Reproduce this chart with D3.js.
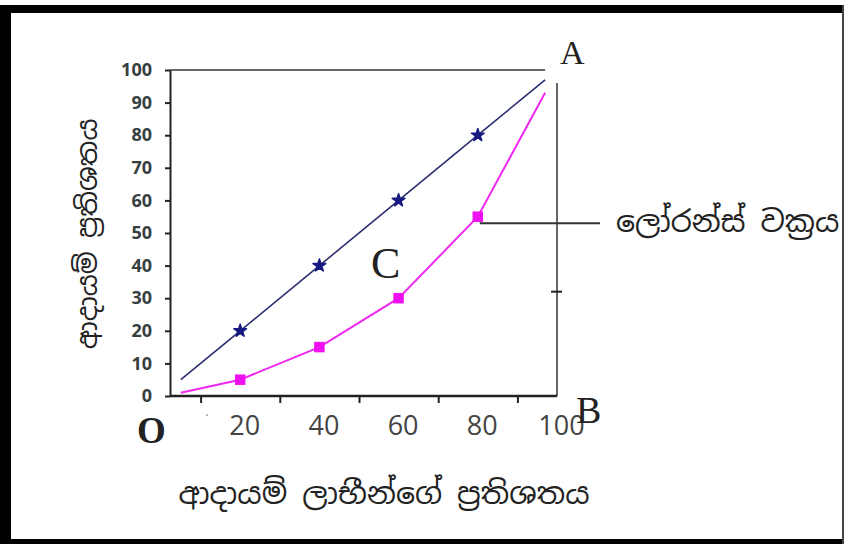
<!DOCTYPE html>
<html>
<head>
<meta charset="utf-8">
<script src="https://cdn.jsdelivr.net/npm/d3@7"></script>
<style>
  body { margin: 0; background: #fff; }
  svg { display: block; }
  .sin { font-family: "Noto Sans Sinhala", "Iskoola Pota", "Noto Sans", sans-serif; fill: #222; }
  .letter { font-family: "Liberation Serif", "Times New Roman", serif; fill: #222; }
</style>
</head>
<body>
<div id="chart"></div>
<script>
// ලෝරන්ස් වක්‍රය
const populationPct = [20, 40, 60, 80];          // x of the markers
const equalityPct = [20, 40, 60, 80];            // line of equality (OA)
const lorenzPct = [5, 15, 30, 55];               // Lorenz curve (OCA)
const equalityLineX = [5, 20, 40, 60, 80, 97];
const equalityLineY = [5, 20, 40, 60, 80, 97];
const lorenzLineX = [5, 20, 40, 60, 80, 97];
const lorenzLineY = [1, 5, 15, 30, 55, 93];
const yTicks = [0, 10, 20, 30, 40, 50, 60, 70, 80, 90, 100];
const xTickMarks = [10, 30, 50, 70, 90];
const xTickLabels = [20, 40, 60, 80, 100];
const rightTick = 32;
const legendAt = 53;

const yLabel = "ආදායම් ප්‍රතිශතය";
const xLabel = "ආදායම් ලාභීන්ගේ ප්‍රතිශතය";
const legendLabel = "ලෝරන්ස් වක්‍රය";

const W = 844, H = 544;
const plotLeft = 170, plotTop = 70, plotBottom = 396;

const svg = d3.select("#chart")
    .append("svg")
    .attr("width", W)
    .attr("height", H);

// frame
svg.append("rect").attr("x", 0).attr("y", 5).attr("width", W).attr("height", 8).attr("fill", "#000");
svg.append("rect").attr("x", 0).attr("y", 5).attr("width", 11).attr("height", H - 5).attr("fill", "#000");
svg.append("rect").attr("x", 0).attr("y", 539).attr("width", W).attr("height", 5).attr("fill", "#000");
svg.append("rect").attr("x", 842).attr("y", 5).attr("width", 2).attr("height", H - 5).attr("fill", "#444");

const x = d3.scaleLinear()
    .domain([0, 100])
    .range([161, 557]);

const y = d3.scaleLinear()
    .domain([0, 100])
    .range([plotBottom, plotTop]);

// top line at 100
svg.append("line")
    .attr("x1", plotLeft).attr("x2", x(97))
    .attr("y1", y(100)).attr("y2", y(100))
    .attr("stroke", "#666").attr("stroke-width", 2);

// right vertical line at x = 100
svg.append("line")
    .attr("x1", x(100)).attr("x2", x(100))
    .attr("y1", y(96)).attr("y2", y(0))
    .attr("stroke", "#333").attr("stroke-width", 1.5);
svg.append("line")
    .attr("x1", x(100) - 6).attr("x2", x(100) + 5)
    .attr("y1", y(rightTick)).attr("y2", y(rightTick))
    .attr("stroke", "#222").attr("stroke-width", 2);

// y axis
const yAxis = svg.append("g")
    .attr("transform", `translate(${plotLeft},0)`)
    .call(d3.axisLeft(y).tickValues(yTicks).tickSize(5).tickPadding(13).tickSizeOuter(0));
yAxis.select(".domain").attr("stroke", "#222").attr("stroke-width", 2);
yAxis.selectAll(".tick line").attr("stroke", "#222").attr("stroke-width", 2);
yAxis.selectAll(".tick text")
    .attr("fill", "#364040")
    .style("font-family", "'Open Sans', sans-serif")
    .style("font-size", "18px")
    .style("font-weight", "bold");

// x axis: tick marks between categories
const xAxis = svg.append("g")
    .attr("transform", `translate(0,${plotBottom})`)
    .call(d3.axisBottom(x).tickValues(xTickMarks).tickSize(7).tickFormat(""));
xAxis.select(".domain").remove();
xAxis.selectAll(".tick line").attr("stroke", "#222").attr("stroke-width", 2);
svg.append("line")
    .attr("x1", plotLeft).attr("x2", x(100))
    .attr("y1", plotBottom).attr("y2", plotBottom)
    .attr("stroke", "#222").attr("stroke-width", 2.5);

const xLabels = svg.append("g")
    .attr("transform", `translate(4,${plotBottom})`)
    .call(d3.axisBottom(x).tickValues(xTickLabels).tickSize(0).tickPadding(20));
xLabels.select(".domain").remove();
xLabels.selectAll(".tick text")
    .attr("fill", "#444")
    .style("font-family", "'Open Sans', sans-serif")
    .style("font-size", "27px");

svg.append("text")
    .attr("x", x(11)).attr("y", 420)
    .attr("fill", "#888")
    .style("font-size", "14px")
    .text("·");

// lines
const line = d3.line()
    .x(d => x(d[0]))
    .y(d => y(d[1]));

svg.append("path")
    .datum(d3.zip(equalityLineX, equalityLineY))
    .attr("d", line)
    .attr("fill", "none")
    .attr("stroke", "#2b2f70")
    .attr("stroke-width", 1.6);

svg.append("path")
    .datum(d3.zip(lorenzLineX, lorenzLineY))
    .attr("d", line)
    .attr("fill", "none")
    .attr("stroke", "#f028f0")
    .attr("stroke-width", 2);

// markers
svg.selectAll(".eq")
    .data(d3.zip(populationPct, equalityPct))
    .enter().append("path")
    .attr("class", "eq")
    .attr("transform", d => `translate(${x(d[0])},${y(d[1])})`)
    .attr("d", d3.symbol().type(d3.symbolStar).size(50))
    .attr("fill", "#161a80")
    .attr("stroke", "#161a80")
    .attr("stroke-width", 1.5)
    .attr("stroke-linejoin", "round");

svg.selectAll(".lz")
    .data(d3.zip(populationPct, lorenzPct))
    .enter().append("path")
    .attr("class", "lz")
    .attr("transform", d => `translate(${x(d[0])},${y(d[1])})`)
    .attr("d", d3.symbol().type(d3.symbolSquare).size(110))
    .attr("fill", "#ee10ee");

// legend pointer
svg.append("line")
    .attr("x1", x(80) + 2).attr("x2", 600)
    .attr("y1", y(legendAt)).attr("y2", y(legendAt))
    .attr("stroke", "#333").attr("stroke-width", 2);
svg.append("text")
    .attr("class", "sin")
    .attr("x", 616).attr("y", y(legendAt))
    .attr("dy", "0.3em")
    .style("font-size", "30px")
    .text(legendLabel);

// letters
svg.append("text").attr("class", "letter").attr("x", 560).attr("y", 64).style("font-size", "34px").text("A");
svg.append("text").attr("class", "letter").attr("x", 576).attr("y", 423).style("font-size", "38px").text("B");
svg.append("text").attr("class", "letter").attr("x", 371).attr("y", 278).style("font-size", "44px").text("C");
svg.append("text").attr("class", "letter").attr("x", 137).attr("y", 443).style("font-size", "37px").style("font-weight", "bold").text("O");

// axis titles
svg.append("text")
    .attr("class", "sin")
    .attr("transform", "rotate(-90)")
    .attr("x", -234)
    .attr("y", 88)
    .attr("dy", "0.35em")
    .attr("text-anchor", "middle")
    .style("font-size", "27px")
    .text(yLabel);

svg.append("text")
    .attr("class", "sin")
    .attr("x", 384)
    .attr("y", 493)
    .attr("dy", "0.35em")
    .attr("text-anchor", "middle")
    .style("font-size", "30px")
    .text(xLabel);
</script>
</body>
</html>
